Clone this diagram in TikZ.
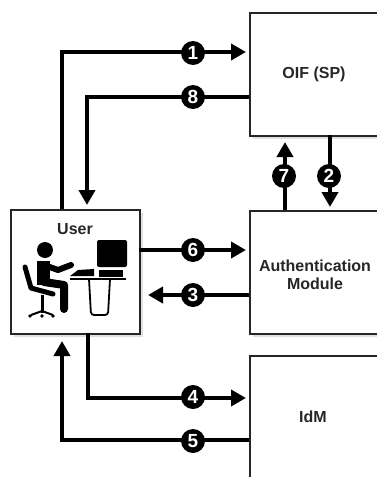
\documentclass[tikz,border=0pt]{standalone}
\usepackage{fontspec}
\setmainfont{Liberation Sans}
\usetikzlibrary{arrows.meta}
\tikzset{
  x=1pt,y=-1pt,
  boxnode/.style={draw=black!85,line width=1.7pt,fill=white,minimum width=128pt,inner sep=0pt,anchor=north west},
  lbl/.style={font=\bfseries\fontsize{16}{18}\selectfont,text=black!85,align=center},
  shade/.style={fill=black!12,draw=none},
  conn/.style={line width=3.8pt,-{Triangle[length=15pt,width=16pt]},shorten >=3pt,line join=miter},
  num/.style={circle,fill=black,text=white,minimum size=24pt,inner sep=0pt,font=\bfseries\fontsize{19}{19}\selectfont},
  ico/.style={line width=8pt,line cap=round,line join=round},
}
\begin{document}
\begin{tikzpicture}
\useasboundingbox (0,0) rectangle (377,477);
% shadows
\fill[shade] (14,213) rectangle (143,337);
\fill[shade] (253,16) rectangle (377,139);
\fill[shade] (253,214) rectangle (377,337);
% boxes
\node[boxnode,minimum height=123pt] (oif) at (249,12) {};
\node[boxnode,minimum height=123pt] (auth) at (249,210) {};
\node[boxnode,minimum height=130pt] (idm) at (249,355) {};
\node[boxnode,minimum width=129pt,minimum height=124pt] (user) at (10,209) {};
% labels
\node[lbl] (oiflabel) at (314,74) {OIF (SP)};
\node[lbl] (authlabel) at (315,275) {Authentication\\Module};
\node[lbl] (idmlabel) at (313,417) {IdM};
\node[lbl] (userlabel) at (75,229) {User};
% connector ends
\coordinate (u1) at (62,209);
\coordinate (c1) at (62,52);
\coordinate (o1) at (249,52);
\coordinate (o8) at (249,97);
\coordinate (c8) at (87,97);
\coordinate (u8) at (87,209);
\coordinate (a7) at (285,210);
\coordinate (o7) at (285,135);
\coordinate (o2) at (330,135);
\coordinate (a2) at (330,210);
\coordinate (u6) at (139,250);
\coordinate (a6) at (249,250);
\coordinate (a3) at (249,295);
\coordinate (u3) at (139,295);
\coordinate (u4) at (88,333);
\coordinate (c4) at (88,398);
\coordinate (i4) at (249,398);
\coordinate (i5) at (249,440);
\coordinate (c5) at (62,440);
\coordinate (u5) at (62,333);
% connectors
\draw[conn] (u1) -- (c1) -- (o1);
\draw[conn,shorten >=4pt] (o8) -- (c8) -- (u8);
\draw[conn,shorten >=7pt] (a7) -- (o7);
\draw[conn] (o2) -- (a2);
\draw[conn] (u6) -- (a6);
\draw[conn,shorten >=9pt] (a3) -- (u3);
\draw[conn] (u4) -- (c4) -- (i4);
\draw[conn,shorten >=8pt] (i5) -- (c5) -- (u5);
% numbers
\node[num] (n1) at (193,53) {1};
\node[num] (n8) at (193,97) {8};
\node[num] (n7) at (284,176) {7};
\node[num] (n2) at (329,176) {2};
\node[num] (n6) at (193,250) {6};
\node[num] (n3) at (193,295) {3};
\node[num] (n4) at (193,397) {4};
\node[num] (n5) at (193,441) {5};
% user icon
\fill (45,250) circle (8);
\draw[ico] (44,266) -- (44,282) -- (64,285) -- (64,309);
\draw[ico,line width=6pt] (44,265) -- (58,270) -- (71,265);
\fill (37,261) rectangle (50,285);
\draw[line width=5pt,line cap=round,line join=round] (25,267) -- (31,288) -- (53,294);
\draw[line width=3pt] (42,295) -- (42,313);
\draw[line width=2pt] (31,315) -- (42,311) -- (53,315);
\fill (30,316) circle (1.8) (42,316) circle (1.8) (53,316) circle (1.8);
\fill (70,276) -- (78,270) -- (94,269) -- (94,276) -- cycle;
\draw[line width=2.4pt] (70,279) -- (126,279);
\fill[rounded corners=2pt] (97,240) rectangle (127,267);
\fill (99,270) rectangle (123,277);
\draw[line width=1.8pt,rounded corners=3pt] (89,279) -- (91,315) -- (108,315) -- (110,279);
\end{tikzpicture}
\end{document}
